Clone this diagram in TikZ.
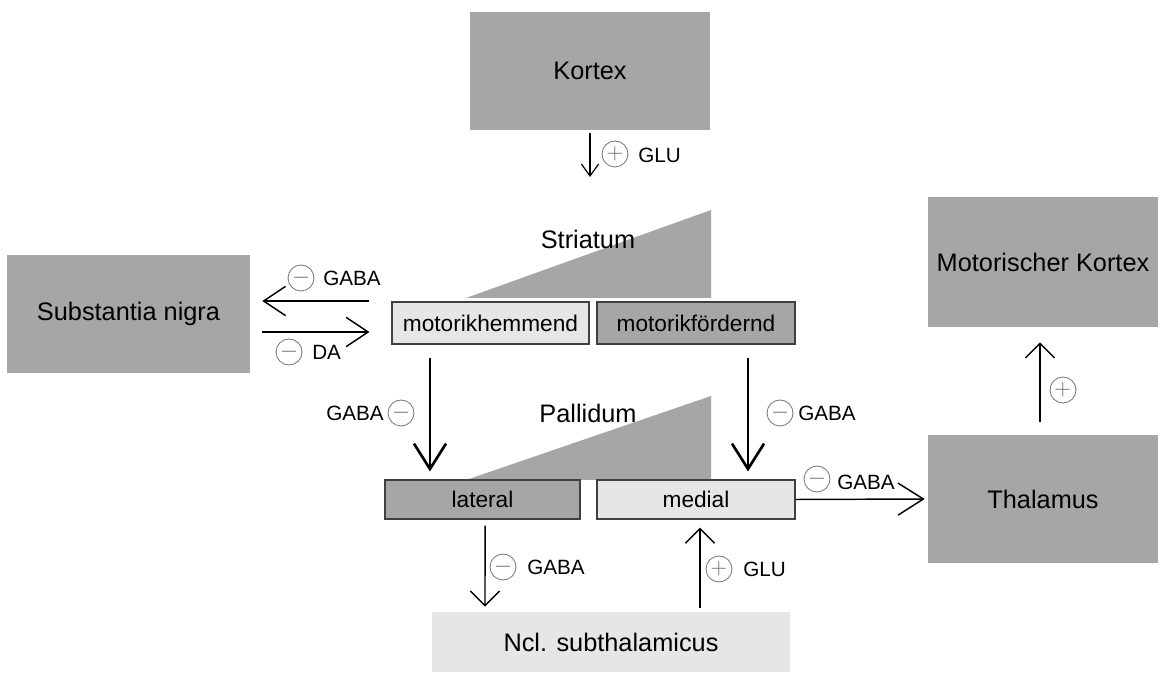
\documentclass[tikz,border=0pt]{standalone}
\usepackage{fontspec}
\setmainfont{Liberation Sans}
\usepackage{xcolor}
\usetikzlibrary{arrows.meta}

\definecolor{boxgray}{HTML}{A6A6A6}
\definecolor{boxlight}{HTML}{E6E6E6}

\tikzset{
  region/.style={fill=boxgray, inner sep=0pt, font=\fontsize{19}{23}\selectfont},
  part/.style={draw=black!75, line width=0.8pt, inner sep=0pt, font=\fontsize{17}{20}\selectfont},
  sign/.style={circle, draw=black!55, line width=0.6pt, minimum size=19.5pt, inner sep=0pt,
    text=black!60, font=\fontsize{16}{16}\selectfont},
  transm/.style={inner sep=0pt, font=\fontsize{15.5}{18}\selectfont},
  arr/.style={line width=1.1pt, -{Straight Barb[length=11pt,width=22pt]}},
  bigarr/.style={line width=2pt, -{Straight Barb[length=19pt,width=24pt]}},
}

\begin{document}
\begin{tikzpicture}[x=0.75pt, y=-0.75pt]
        \useasboundingbox (0,0) rectangle (1165,673);

        % wedges behind the two rows of boxes
        \fill[boxgray] (466,298) -- (711,210) -- (711,298) -- cycle;
        \node[transm, font=\fontsize{19}{23}\selectfont] (striatum) at (588,239) {Striatum};
        \fill[boxgray] (466,480) -- (711,396) -- (711,480) -- cycle;
        \node[transm, font=\fontsize{19}{23}\selectfont] (pallidum) at (588,413) {Pallidum};

        % large regions
        \node[region, minimum width=180pt, minimum height=88.5pt] (kortex) at (590,71) {Kortex};
        \node[region, minimum width=182.25pt, minimum height=88.5pt] (sn) at (128.5,314) {Substantia nigra};
        \node[region, minimum width=172.5pt, minimum height=97.5pt] (mk) at (1043,262) {Motorischer Kortex};
        \node[region, minimum width=172.5pt, minimum height=96pt] (thal) at (1043,499) {Thalamus};
        \node[region, fill=boxlight, minimum width=268.5pt, minimum height=45pt] (ncl) at (611,642) {Ncl. subthalamicus};

        % striatum and pallidum parts
        \node[part, fill=boxlight, minimum width=147.75pt, minimum height=31.5pt] (hemm) at (490.5,323) {motorikhemmend};
        \node[part, fill=boxgray, minimum width=148.5pt, minimum height=31.5pt] (foerd) at (696,323) {motorikfördernd};
        \node[part, fill=boxgray, minimum width=146.25pt, minimum height=29.25pt] (lat) at (482.5,499.5) {lateral};
        \node[part, fill=boxlight, minimum width=148.5pt, minimum height=29.25pt] (med) at (696,499.5) {medial};

        % connectors
        \coordinate (kin) at (590,177);
        \draw[arr, line width=0.9pt, -{Straight Barb[length=9pt,width=13pt]}, shorten <=2pt] (kortex.south) -- (kin);
        \draw[arr, -{Straight Barb[length=16.5pt,width=22pt]}, shorten <=16.5pt, shorten >=9pt]
            ([yshift=16.5pt]hemm.west) -- ([yshift=9.75pt]sn.east);
        \draw[arr, -{Straight Barb[length=16.5pt,width=22pt]}, shorten <=9pt, shorten >=16.5pt]
            ([yshift=-13.5pt]sn.east) -- ([yshift=-6.75pt]hemm.west);
        \draw[bigarr, shorten <=9.75pt, shorten >=6pt] ([xshift=-45.4pt]hemm.south) -- ([xshift=-39.4pt]lat.north);
        \draw[bigarr, shorten <=9.75pt, shorten >=6pt] ([xshift=39pt]foerd.south) -- ([xshift=39pt]med.north);
        \draw[arr, -{Straight Barb[length=19pt,width=24pt]}, shorten >=2.25pt] (med.east) -- (thal.west);
        \draw[arr, shorten <=4.5pt, shorten >=3.75pt] ([xshift=1.9pt]lat.south) -- ([xshift=-94.5pt]ncl.north);
        \draw[arr, shorten <=3pt, shorten >=6pt] ([xshift=66.75pt]ncl.north) -- ([xshift=3pt]med.south);
        \draw[arr, shorten <=9.75pt, shorten >=11.25pt] ([xshift=-2.25pt]thal.north) -- ([xshift=-2.25pt]mk.south);

        % transmitter labels
        \node[sign] (s1) at (615,154) {$+$};
        \node[transm, anchor=west] (t1) at (638,155) {GLU};
        \node[sign] (s2) at (301,278) {$-$};
        \node[transm, anchor=west] (t2) at (323,278) {GABA};
        \node[sign] (s3) at (289,352) {$-$};
        \node[transm, anchor=west] (t3) at (312,352) {DA};
        \node[sign] (s4) at (401,413) {$-$};
        \node[transm, anchor=east] (t4) at (384,413) {GABA};
        \node[sign] (s5) at (780,413) {$-$};
        \node[transm, anchor=west] (t5) at (798,413) {GABA};
        \node[sign] (s6) at (817,479) {$-$};
        \node[transm, anchor=west] (t6) at (837,482) {GABA};
        \node[sign] (s7) at (503,567) {$-$};
        \node[transm, anchor=west] (t7) at (527,567) {GABA};
        \node[sign] (s8) at (719,569) {$+$};
        \node[transm, anchor=west] (t8) at (743,569) {GLU};
        \node[sign] (s9) at (1063,390) {$+$};
    \end{tikzpicture}
\end{document}
